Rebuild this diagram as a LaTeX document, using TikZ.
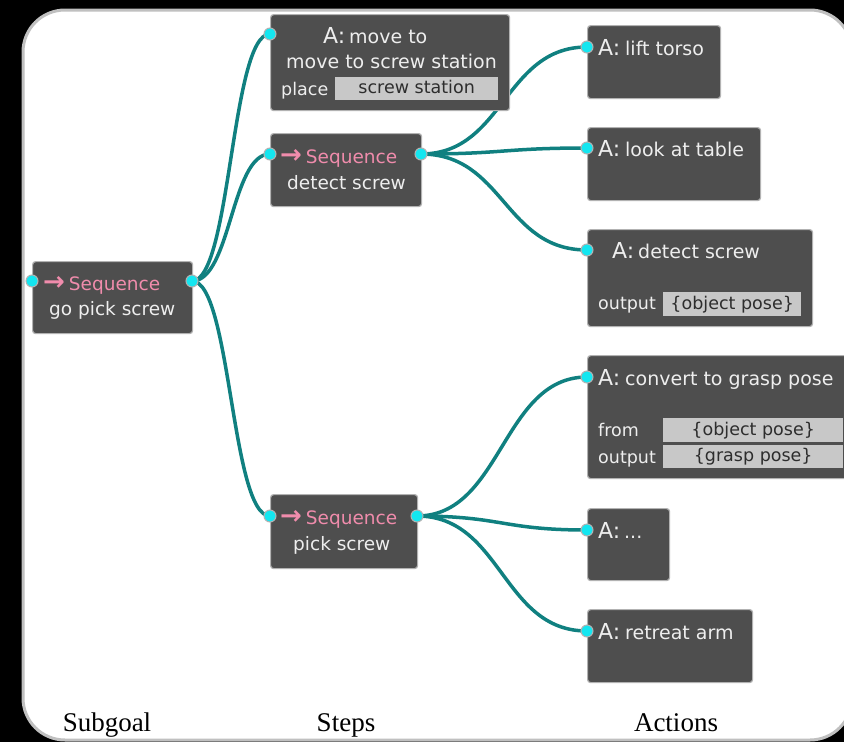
\documentclass[tikz,border=0pt]{standalone}
\usepackage{fontspec}
\setmainfont{DejaVu Sans}
\newfontfamily\labelfont{Liberation Serif}
\pgfdeclarelayer{frame}
\pgfdeclarelayer{edges}
\pgfsetlayers{frame,edges,main}
\definecolor{boxfill}{RGB}{78,78,78}
\definecolor{boxline}{RGB}{178,178,178}
\definecolor{seqpink}{RGB}{240,140,172}
\definecolor{txtcol}{RGB}{238,238,238}
\definecolor{fieldfill}{RGB}{200,200,200}
\definecolor{fieldtxt}{RGB}{45,45,45}
\definecolor{dotfill}{RGB}{20,230,240}
\definecolor{edgecol}{RGB}{16,128,128}
\definecolor{framecol}{RGB}{192,192,192}
\tikzset{
  nodebox/.style={draw=boxline, fill=boxfill, line width=1.2pt, rounded corners=3pt,
    inner sep=0pt, anchor=north west},
  txt/.style={text=txtcol, font=\fontsize{19}{22}\selectfont, anchor=base west, inner sep=0pt},
  seqtxt/.style={text=seqpink, font=\fontsize{18.5}{22}\selectfont, anchor=base west, inner sep=0pt},
  subtxt/.style={text=txtcol, font=\fontsize{18.5}{22}\selectfont, anchor=base west, inner sep=0pt},
  bigA/.style={text=txtcol, font=\fontsize{22}{24}\selectfont, anchor=base west, inner sep=0pt},
  ptxt/.style={text=txtcol, font=\fontsize{17.5}{20}\selectfont, anchor=base west, inner sep=0pt},
  field/.style={fill=fieldfill, text=fieldtxt, font=\fontsize{17.5}{20}\selectfont,
    inner sep=0pt, anchor=north west, text height=14pt, text depth=3.5pt},
  dot/.style={circle, fill=dotfill, draw=boxline, line width=1pt, minimum size=12pt, inner sep=0pt},
  edgeline/.style={draw=edgecol, line width=3.5pt},
  collabel/.style={font=\labelfont\fontsize{27}{30}\selectfont, text=black, anchor=base, inner sep=0pt}
}
\newcommand{\seqarrow}{{\fontsize{26}{26}\selectfont\bfseries →}\hspace{4pt}}
\begin{document}
\begin{tikzpicture}[x=1pt,y=-1pt]
\useasboundingbox (0,0) rectangle (844,742);
\begin{pgfonlayer}{frame}
  \fill[black] (0,0) rectangle (844,742);
  \filldraw[fill=white, draw=framecol, line width=3pt, rounded corners=42pt] (23,10) rectangle (852,740);
\end{pgfonlayer}

% Subgoal
\node[nodebox, minimum width=160pt, minimum height=72pt] (gps) at (32,261) {};
\node[seqtxt] (gpsT) at (43,290) {\seqarrow Sequence};
\node[subtxt] (gpsS) at (49,315) {go pick screw};

% Steps
\node[nodebox, minimum width=239pt, minimum height=96pt] (mv) at (270,14) {};
\node[bigA] (mvA) at (323,43) {A:};
\node[txt] (mvT) at (349,43) {move to};
\node[txt] (mvS) at (286,68) {move to screw station};
\node[ptxt] (mvP) at (281,95) {place};
\node[field, minimum width=163pt, minimum height=23pt] (mvF) at (335,77) {screw station};

\node[nodebox, minimum width=151pt, minimum height=73pt] (ds) at (270,133) {};
\node[seqtxt] (dsT) at (280,163) {\seqarrow Sequence};
\node[subtxt] (dsS) at (287,189) {detect screw};

\node[nodebox, minimum width=147pt, minimum height=74pt] (ps) at (270,494) {};
\node[seqtxt] (psT) at (280,524) {\seqarrow Sequence};
\node[subtxt] (psS) at (293,550) {pick screw};

% Actions
\node[nodebox, minimum width=133pt, minimum height=73pt] (lt) at (587,25) {};
\node[bigA] (ltA) at (598,55) {A:};
\node[txt] (ltT) at (625,55) {lift torso};

\node[nodebox, minimum width=173pt, minimum height=73pt] (lat) at (587,127) {};
\node[bigA] (latA) at (598,156) {A:};
\node[txt] (latT) at (625,156) {look at table};

\node[nodebox, minimum width=225pt, minimum height=97pt] (dsc) at (587,229) {};
\node[bigA] (dscA) at (612,258) {A:};
\node[txt] (dscT) at (638,258) {detect screw};
\node[ptxt] (dscP) at (598,309) {output};
\node[field, minimum width=138pt, minimum height=24pt] (dscF) at (663,292) {\{object pose\}};

\node[nodebox, minimum width=262pt, minimum height=123pt] (cv) at (587,355) {};
\node[bigA] (cvA) at (598,385) {A:};
\node[txt] (cvT) at (625,385) {convert to grasp pose};
\node[ptxt] (cvP1) at (598,436) {from};
\node[ptxt] (cvP2) at (598,463) {output};
\node[field, minimum width=180pt, minimum height=24pt] (cvF1) at (663,418) {\{object pose\}};
\node[field, minimum width=180pt, minimum height=23pt] (cvF2) at (663,445) {\{grasp pose\}};

\node[nodebox, minimum width=82pt, minimum height=72pt] (ell) at (587,508) {};
\node[bigA] (ellA) at (598,538) {A:};
\node[txt] (ellT) at (624,538) {...};

\node[nodebox, minimum width=165pt, minimum height=73pt] (ra) at (587,609) {};
\node[bigA] (raA) at (598,639) {A:};
\node[txt] (raT) at (625,639) {retreat arm};

% Ports
\node[dot] (gpsL) at (32,281) {};
\node[dot] (gpsR) at (192,281) {};
\node[dot] (mvL) at (270,34) {};
\node[dot] (dsL) at (270,154) {};
\node[dot] (dsR) at (421,154) {};
\node[dot] (psL) at (270,516) {};
\node[dot] (psR) at (417,516) {};
\node[dot] (ltL) at (587,47) {};
\node[dot] (latL) at (587,148) {};
\node[dot] (dscL) at (587,250) {};
\node[dot] (cvL) at (587,377) {};
\node[dot] (ellL) at (587,530) {};
\node[dot] (raL) at (587,631) {};

% Connectors
\begin{pgfonlayer}{edges}
  \draw[edgeline] (gpsR.center) .. controls +(39,0) and +(-39,0) .. (mvL.center);
  \draw[edgeline] (gpsR.center) .. controls +(39,0) and +(-39,0) .. (dsL.center);
  \draw[edgeline] (gpsR.center) .. controls +(39,0) and +(-39,0) .. (psL.center);
  \draw[edgeline] (dsR.center) .. controls +(83,0) and +(-83,0) .. (ltL.center);
  \draw[edgeline] (dsR.center) .. controls +(83,0) and +(-83,0) .. (latL.center);
  \draw[edgeline] (dsR.center) .. controls +(83,0) and +(-83,0) .. (dscL.center);
  \draw[edgeline] (psR.center) .. controls +(85,0) and +(-85,0) .. (cvL.center);
  \draw[edgeline] (psR.center) .. controls +(85,0) and +(-85,0) .. (ellL.center);
  \draw[edgeline] (psR.center) .. controls +(85,0) and +(-85,0) .. (raL.center);
\end{pgfonlayer}

% Column labels
\node[collabel] (lab1) at (107,731) {Subgoal};
\node[collabel] (lab2) at (346,731) {Steps};
\node[collabel] (lab3) at (676,731) {Actions};
\end{tikzpicture}
\end{document}
